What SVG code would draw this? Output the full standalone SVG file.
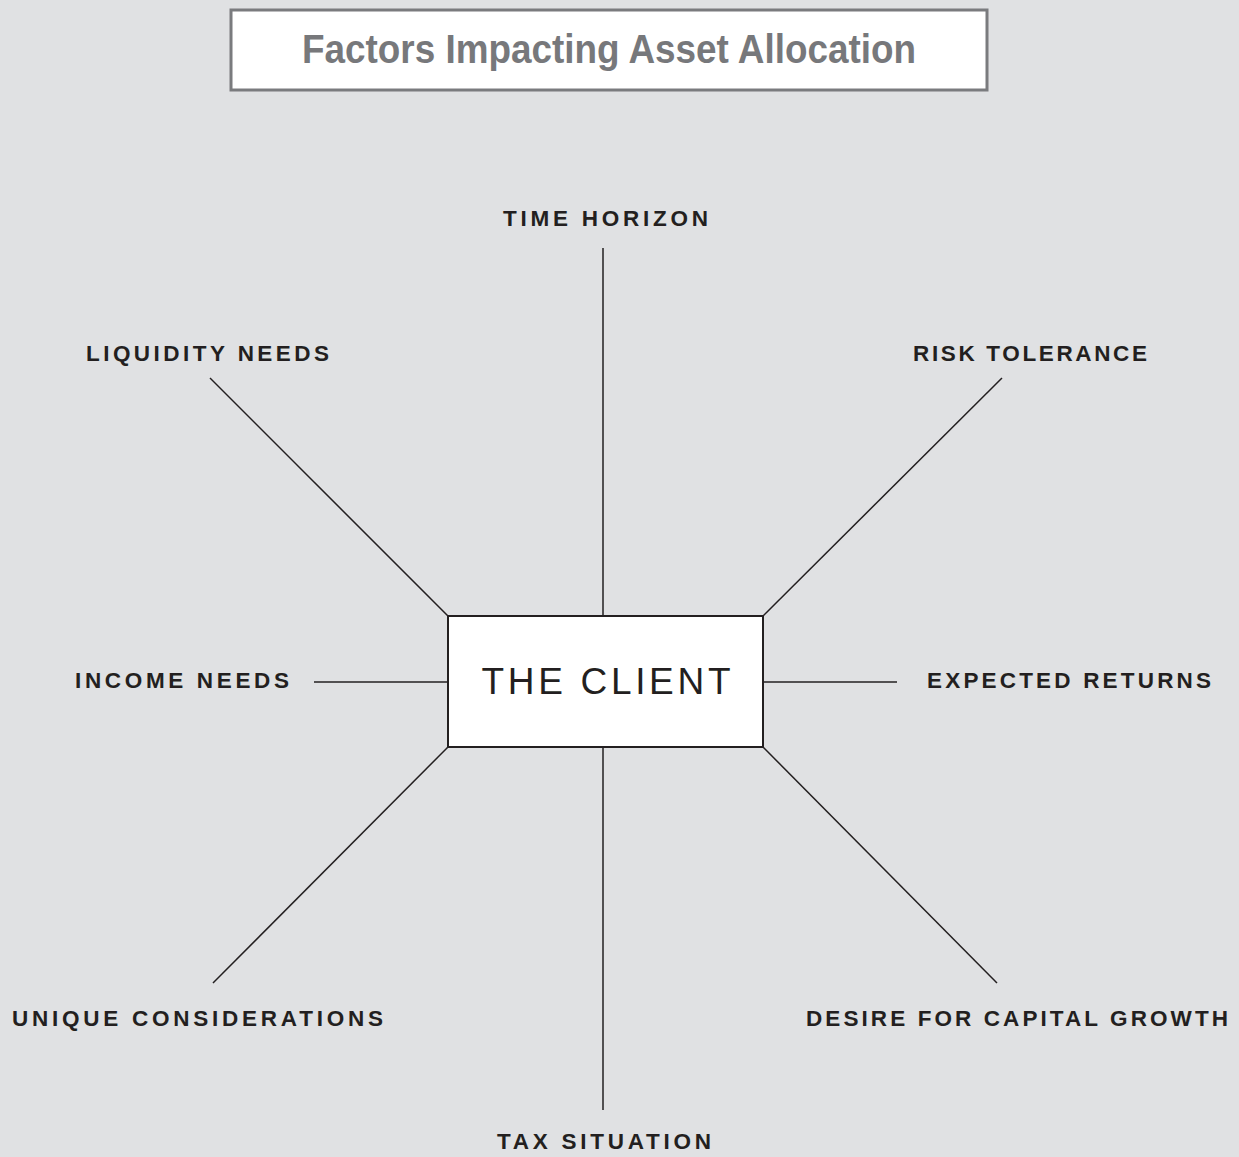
<svg xmlns="http://www.w3.org/2000/svg" width="1239" height="1157" viewBox="0 0 1239 1157">
<style>
.lbl{font-family:"Liberation Sans",Arial,sans-serif;font-weight:bold;font-size:22.5px;fill:#231f20;letter-spacing:1px}
.ln{stroke:#231f20;stroke-width:1.5;fill:none}
</style>
<rect x="0" y="0" width="1239" height="1157" fill="#e0e1e3"/>
<g id="title">
<rect x="231" y="10" width="756" height="80" fill="#fff" stroke="#7a7b7e" stroke-width="3"/>
<text x="609" y="63" text-anchor="middle" font-family="'Liberation Sans',Arial,sans-serif" font-weight="bold" font-size="41" fill="#77787b" textLength="614" lengthAdjust="spacingAndGlyphs">Factors Impacting Asset Allocation</text>
</g>
<g id="connectors">
<line class="ln" x1="603" y1="248" x2="603" y2="616"/>
<line class="ln" x1="603" y1="747" x2="603" y2="1110"/>
<line class="ln" x1="210" y1="378" x2="448" y2="616"/>
<line class="ln" x1="1002" y1="378" x2="763" y2="616"/>
<line class="ln" x1="213" y1="983" x2="448" y2="747"/>
<line class="ln" x1="997" y1="983" x2="763" y2="747"/>
<line class="ln" x1="314" y1="682" x2="448" y2="682"/>
<line class="ln" x1="763" y1="682" x2="897" y2="682"/>
</g>
<g id="client">
<rect x="448" y="616" width="315" height="131" fill="#fff" stroke="#231f20" stroke-width="2"/>
<text x="606" y="694" text-anchor="middle" font-family="'Liberation Sans',Arial,sans-serif" font-size="37" fill="#231f20" textLength="249" lengthAdjust="spacing">THE CLIENT</text>
</g>
<g id="time-horizon"><text class="lbl" x="503" y="226" textLength="206">TIME HORIZON</text></g>
<g id="liquidity-needs"><text class="lbl" x="86" y="361" textLength="244">LIQUIDITY NEEDS</text></g>
<g id="risk-tolerance"><text class="lbl" x="913" y="361" textLength="235">RISK TOLERANCE</text></g>
<g id="income-needs"><text class="lbl" x="75" y="688" textLength="215">INCOME NEEDS</text></g>
<g id="expected-returns"><text class="lbl" x="927" y="688" textLength="285">EXPECTED RETURNS</text></g>
<g id="unique-considerations"><text class="lbl" x="12" y="1026" textLength="372">UNIQUE CONSIDERATIONS</text></g>
<g id="desire-capital-growth"><text class="lbl" x="806" y="1026" textLength="423">DESIRE FOR CAPITAL GROWTH</text></g>
<g id="tax-situation"><text class="lbl" x="497" y="1149" textLength="215">TAX SITUATION</text></g>
</svg>
